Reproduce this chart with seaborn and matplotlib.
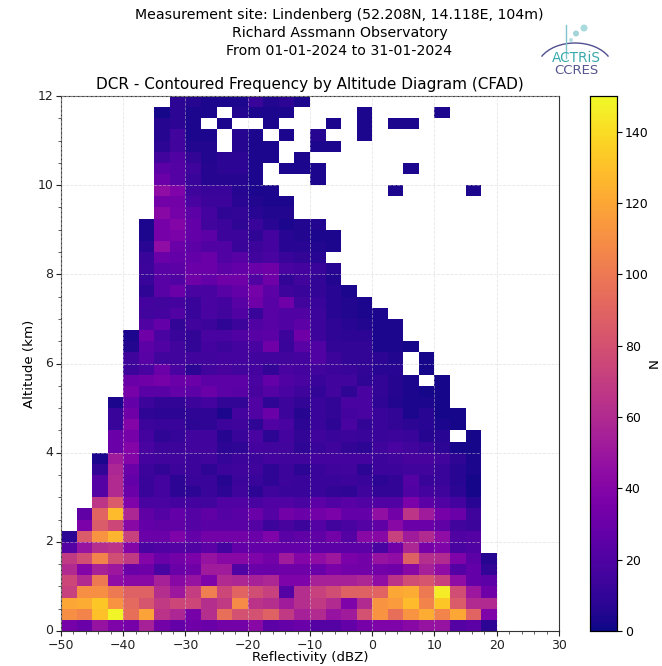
import numpy as np
import pandas as pd
import matplotlib
matplotlib.use('Agg')
import matplotlib.pyplot as plt
from matplotlib.patches import Arc, Circle
from matplotlib.ticker import FixedLocator
import seaborn as sns

_ = np.nan
N_ALT = 48
N_DBZ = 28

# reflectivity bin left edges (dBZ), altitude bin lower edges (km)
dbz_edges = [-50 + 2.5 * i for i in range(N_DBZ)]
alt_edges = [0.25 * i for i in range(N_ALT)]

# counts per altitude bin, bottom row first
counts = [
    [35, 30, 48, 38, 35, 55, 33, 28, 32, 30, 33, 33, 42, 25, 28, 30, 22, 22, 28, 35, 38, 38, 42, 48, 48, 22, 25, 8],
    [110, 105, 130, 148, 95, 118, 65, 58, 35, 62, 95, 80, 80, 88, 68, 55, 60, 48, 52, 80, 112, 95, 112, 122, 105, 120, 90, 38],
    [120, 122, 132, 112, 92, 82, 68, 75, 75, 62, 68, 108, 65, 62, 52, 62, 68, 60, 38, 60, 112, 115, 128, 105, 132, 85, 60, 60],
    [72, 110, 110, 100, 88, 88, 62, 50, 70, 102, 75, 90, 78, 72, 22, 62, 72, 78, 88, 88, 90, 120, 122, 100, 145, 78, 50, 32],
    [75, 60, 100, 45, 42, 42, 55, 42, 48, 38, 60, 58, 55, 58, 38, 38, 55, 55, 55, 58, 45, 65, 78, 82, 72, 45, 28, 25],
    [60, 40, 55, 50, 30, 32, 18, 30, 32, 52, 52, 20, 30, 30, 32, 32, 30, 36, 33, 33, 33, 32, 42, 55, 45, 22, 28, 10],
    [68, 78, 105, 78, 68, 40, 30, 33, 36, 48, 42, 42, 38, 33, 52, 40, 45, 50, 36, 33, 48, 45, 88, 62, 60, 38, 25, 6],
    [22, 48, 62, 65, 40, 18, 20, 22, 20, 25, 16, 28, 28, 27, 28, 27, 25, 25, 25, 25, 18, 32, 58, 35, 38, 18, 20],
    [8, 85, 112, 125, 72, 30, 30, 38, 28, 33, 33, 33, 30, 38, 24, 26, 26, 33, 22, 42, 42, 72, 52, 60, 45, 20, 22],
    [_, 36, 85, 75, 42, 28, 26, 26, 22, 24, 24, 24, 22, 13, 17, 13, 22, 15, 18, 22, 26, 42, 30, 30, 26, 15, 13],
    [_, 26, 90, 128, 58, 26, 22, 28, 22, 26, 22, 24, 30, 22, 33, 30, 33, 36, 28, 28, 46, 33, 66, 52, 35, 30, 14],
    [_, _, 66, 85, 38, 18, 18, 16, 16, 15, 20, 20, 18, 20, 20, 18, 25, 20, 23, 20, 20, 20, 36, 25, 20, 16, 7],
    [_, _, 22, 60, 30, 12, 16, 8, 8, 12, 8, 14, 8, 14, 12, 12, 12, 10, 9, 14, 10, 10, 20, 16, 14, 8, 2],
    [_, _, 22, 60, 28, 12, 16, 8, 12, 12, 6, 13, 12, 9, 13, 12, 12, 12, 13, 12, 8, 10, 22, 12, 12, 7, 2],
    [_, _, 10, 58, 30, 13, 10, 13, 13, 9, 13, 14, 14, 9, 13, 8, 12, 14, 15, 8, 13, 13, 15, 15, 12, 7, 3],
    [_, _, 3, 52, 40, 16, 15, 15, 13, 15, 11, 13, 13, 16, 15, 15, 16, 16, 16, 16, 13, 15, 17, 17, 15, 9, 3],
    [_, _, _, 30, 40, 18, 13, 13, 15, 15, 8, 9, 16, 15, 15, 9, 12, 14, 10, 8, 14, 18, 15, 12, 8, 2, 2],
    [_, _, _, 30, 35, 16, 9, 11, 15, 15, 6, 12, 18, 8, 16, 10, 14, 12, 13, 12, 12, 13, 12, 6, 7, _, 2],
    [_, _, _, 12, 40, 13, 12, 12, 8, 9, 13, 14, 9, 20, 18, 8, 12, 8, 18, 10, 12, 10, 8, 7, 3, 2],
    [_, _, _, 12, 32, 9, 8, 8, 9, 9, 3, 16, 20, 30, 13, 6, 12, 10, 16, 18, 12, 10, 4, 7, 2, 2],
    [_, _, _, 3, 28, 13, 10, 10, 13, 16, 10, 10, 20, 9, 13, 10, 12, 10, 18, 18, 9, 5, 3, 3, 2],
    [_, _, _, _, 35, 24, 24, 27, 25, 30, 25, 24, 17, 22, 18, 14, 10, 15, 9, 18, 10, 6, 3, 2, 2],
    [_, _, _, _, 30, 32, 35, 30, 30, 25, 25, 25, 18, 27, 20, 18, 12, 15, 15, 9, 10, 6, 3, _, 2],
    [_, _, _, _, 13, 18, 30, 18, 8, 15, 17, 15, 16, 10, 18, 16, 15, 13, 12, 10, 7, 7, _, 2],
    [_, _, _, _, 14, 23, 15, 15, 15, 15, 16, 16, 15, 15, 15, 16, 20, 13, 10, 10, 8, 5, _, 2],
    [_, _, _, _, 5, 25, 20, 15, 10, 16, 13, 16, 18, 32, 12, 23, 20, 10, 10, 10, 3, 3, 2],
    [_, _, _, _, 3, 32, 18, 12, 10, 18, 18, 20, 23, 25, 13, 32, 13, 9, 8, 8, 3, 3],
    [_, _, _, _, _, 20, 27, 10, 15, 13, 9, 13, 20, 23, 20, 25, 13, 9, 7, 5, 3, 3],
    [_, _, _, _, _, 15, 16, 20, 12, 18, 15, 20, 12, 23, 20, 20, 13, 7, 5, 3, 3],
    [_, _, _, _, _, 16, 15, 16, 12, 18, 16, 23, 32, 23, 32, 15, 12, 7, 5, 3],
    [_, _, _, _, _, 9, 23, 30, 18, 18, 23, 27, 34, 25, 13, 12, 10, 7, 3],
    [_, _, _, _, _, 12, 23, 20, 32, 27, 32, 32, 20, 32, 10, 15, 10, 5],
    [_, _, _, _, _, 13, 23, 25, 30, 30, 25, 27, 30, 32, 18, 16, 12, 7],
    [_, _, _, _, _, 12, 30, 27, 27, 30, 20, 23, 15, 18, 12, 10, 7],
    [_, _, _, _, _, 7, 45, 30, 25, 20, 20, 12, 13, 16, 7, 7, 5, 3],
    [_, _, _, _, _, 3, 35, 36, 27, 25, 13, 13, 9, 16, 7, 5, 3, 3],
    [_, _, _, _, _, 3, 35, 40, 27, 15, 13, 9, 12, 7, 3, 5, 5],
    [_, _, _, _, _, _, 42, 34, 25, 16, 9, 10, 7, 5, 5],
    [_, _, _, _, _, _, 33, 33, 18, 13, 13, 7, 5, 3, 3],
    [_, _, _, _, _, _, 45, 38, 14, 12, 12, 6, 3, 3, _, _, _, _, _, _, _, 3, _, _, _, _, 3],
    [_, _, _, _, _, _, 30, 22, 12, 6, 6, 6, 4, _, _, _, 3],
    [_, _, _, _, _, _, 25, 22, 14, 6, 8, 8, 3, _, 3, 3, 3, _, _, _, _, _, 3],
    [_, _, _, _, _, _, 15, 20, 10, 5, 8, 8, 4, 3, _, 3],
    [_, _, _, _, _, _, 8, 15, 5, 5, _, 6, 3, 3, _, _, 3, 3],
    [_, _, _, _, _, _, 6, 15, 4, 3, _, 6, 3, _, 3, _, 6, _, _, 3],
    [_, _, _, _, _, _, 6, 8, 4, _, 3, _, _, 3, _, _, _, 3, _, 3, _, 3, 3],
    [_, _, _, _, _, _, 2, 8, 3, 3, _, 5, 3, 3, 3, _, _, _, _, 3, _, _, _, _, 3],
    [_, _, _, _, _, _, _, 8, 6, 3, 3, 3, 12, 5, 8, 3],
]
counts = [row + [_] * (N_DBZ - len(row)) for row in counts]

x_ticks = [-50, -40, -30, -20, -10, 0, 10, 20, 30]
y_ticks = [0, 2, 4, 6, 8, 10, 12]
cbar_ticks = [0, 20, 40, 60, 80, 100, 120, 140]

df = pd.DataFrame(counts, index=alt_edges, columns=dbz_edges)


def x_pos(v):
    return (np.asarray(v) + 50) / 2.5


def y_pos(v):
    return np.asarray(v) / 0.25


W, H = 662, 666
fig = plt.figure(figsize=(W / 100, H / 100), dpi=100)
ax = fig.add_axes([61 / W, 1 - 631 / H, 498 / W, 535 / H])
cax = fig.add_axes([590 / W, 1 - 631 / H, 27 / W, 535 / H])

sns.heatmap(df, ax=ax, cbar_ax=cax, cmap='plasma', vmin=0, vmax=150,
            cbar_kws={'label': 'N'})

ax.set_xlim(0, 32)
ax.set_ylim(0, 48)
ax.set_xticks(x_pos(x_ticks))
ax.set_xticklabels([str(t).replace('-', '\u2212') for t in x_ticks], rotation=0, fontsize=9)
ax.set_yticks(y_pos(y_ticks))
ax.set_yticklabels(y_ticks, rotation=0, fontsize=9)
ax.xaxis.set_minor_locator(FixedLocator(x_pos(np.arange(-50, 31, 2))))
ax.yaxis.set_minor_locator(FixedLocator(y_pos(np.arange(0, 12.1, 0.5))))
ax.tick_params(which='major', length=3.5, width=0.8, colors='#222222', pad=2)
ax.tick_params(which='minor', length=2, width=0.6, colors='#444444')
ax.grid(True, which='major', color='lightgray', linestyle='--', linewidth=0.6, alpha=0.55)
ax.set_axisbelow(False)
for spine in ax.spines.values():
    spine.set_visible(True)
    spine.set_linewidth(0.8)
    spine.set_color('#333333')

ax.set_xlabel('Reflectivity (dBZ)', fontsize=9.6)
ax.xaxis.set_label_coords(0.5, -0.037)
ax.set_ylabel('Altitude (km)', fontsize=9.6)
ax.yaxis.set_label_coords(-0.05, 0.5)
ax.set_title('DCR - Contoured Frequency by Altitude Diagram (CFAD)', fontsize=10.95, pad=5)

cax.set_yticks(cbar_ticks)
cax.tick_params(labelsize=9, length=3.5, width=0.8, pad=2)
cax.set_ylabel('N', fontsize=9.6)
cax.yaxis.set_label_coords(2.15, 0.5)
for spine in cax.spines.values():
    spine.set_visible(True)
    spine.set_linewidth(0.8)

fig.text(339.5 / W, 1 - 8 / H,
         'Measurement site: Lindenberg (52.208N, 14.118E, 104m)\n'
         'Richard Assmann Observatory\n'
         'From 01-01-2024 to 31-01-2024',
         ha='center', va='top', fontsize=10.2, linespacing=1.38)

# logo, in pixel coords of the figure
logo = fig.add_axes([0, 0, 1, 1], facecolor='none')
logo.set_xlim(0, W)
logo.set_ylim(H, 0)
logo.axis('off')
logo.plot([566, 566], [25, 58], color='#7fc4cc', lw=1)
logo.add_patch(Arc((575, 68.8), 76, 51.6, theta1=200, theta2=340, color='#4f4f90', lw=1))
for cx, cy, r, col in [(584, 28, 3.5, '#a9dadd'), (576, 33.5, 3, '#a3d5d8'), (571, 40, 2, '#b5dfe2')]:
    logo.add_patch(Circle((cx, cy), r, color=col, lw=0))
logo.text(576, 58, 'ACTRiS', color='#3aa9ab', fontsize=9.8, ha='center', va='center')
logo.text(576, 71, 'CCRES', color='#55558f', fontsize=9.5, ha='center', va='center')

fig.savefig('out.png', dpi=100)
